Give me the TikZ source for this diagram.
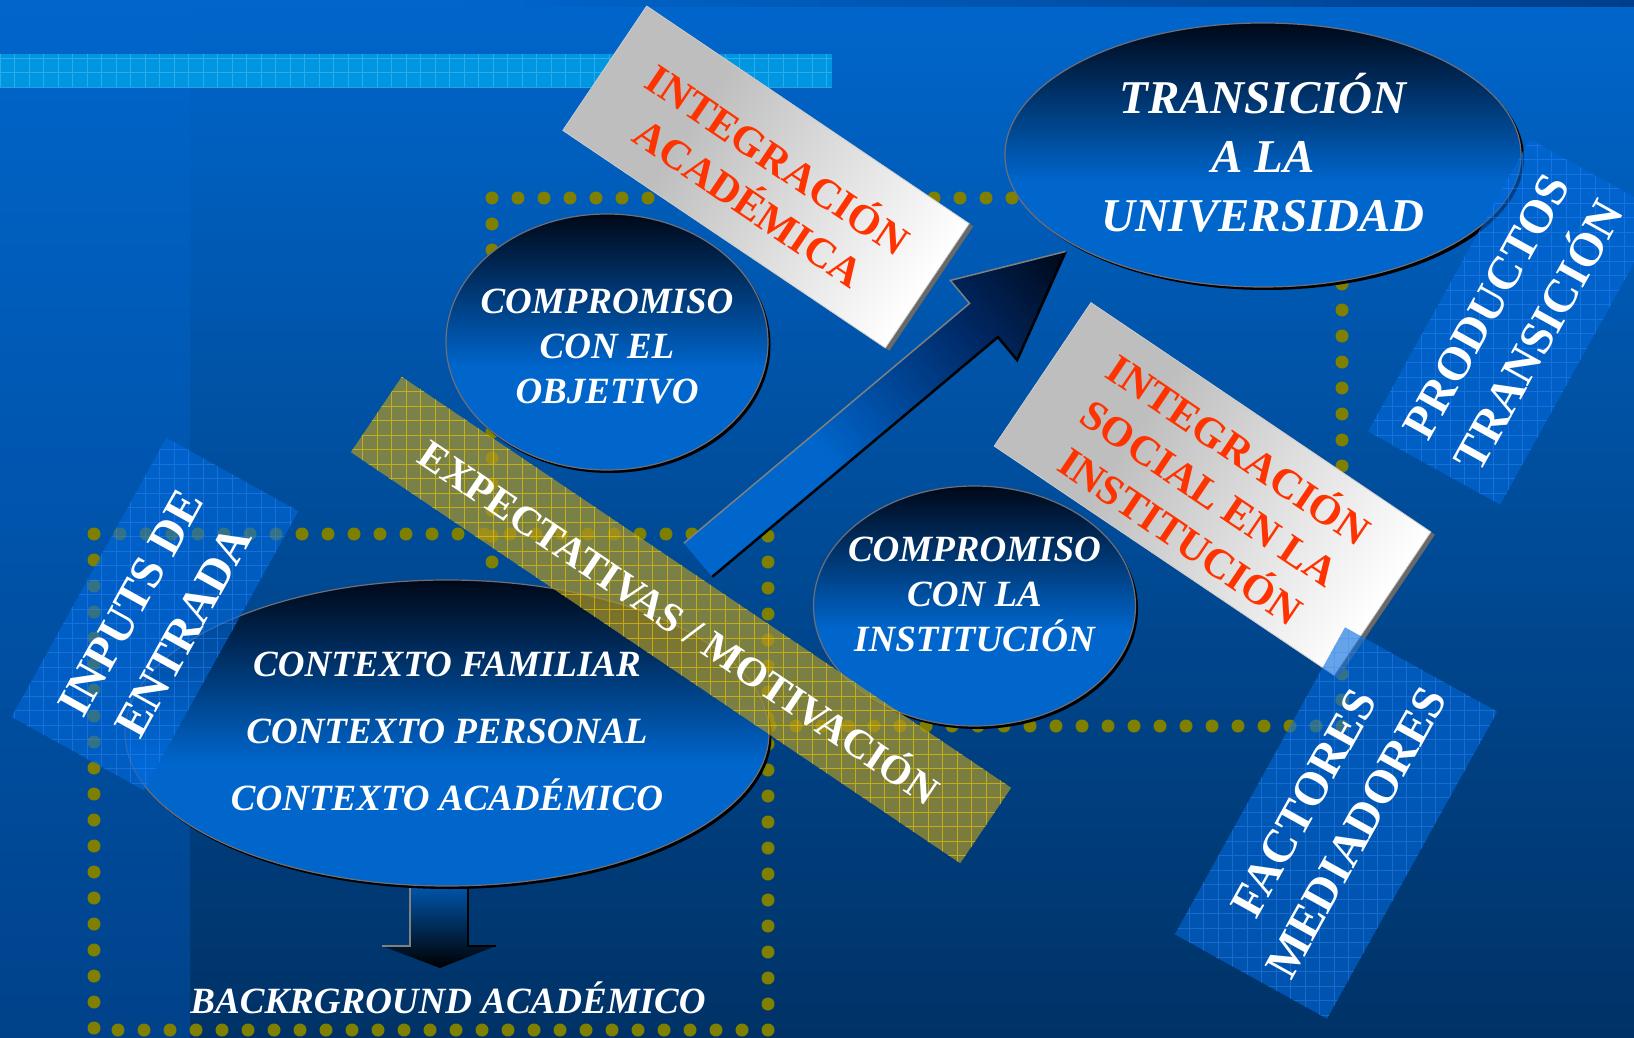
\documentclass[tikz,border=0pt]{standalone}
\usepackage{fontspec}
\setmainfont{Liberation Serif}
\usetikzlibrary{shapes.geometric}
\definecolor{bgtop}{RGB}{0,102,204}
\definecolor{bgbot}{RGB}{0,50,102}
\definecolor{stripbot}{RGB}{0,66,138}
\definecolor{topdark}{RGB}{0,62,140}
\definecolor{ltband}{RGB}{0,150,225}
\definecolor{ltgrid}{RGB}{60,185,240}
\definecolor{dotc}{RGB}{128,128,0}
\definecolor{eblue}{RGB}{0,102,204}
\definecolor{eblack}{RGB}{0,8,24}
\definecolor{emid}{RGB}{0,40,100}
\definecolor{ellrim}{RGB}{110,110,120}
\definecolor{redtxt}{RGB}{255,51,0}
\definecolor{olivefill}{RGB}{170,150,40}
\definecolor{olivegrid}{RGB}{235,200,0}
\definecolor{bandblue}{RGB}{0,105,220}
\definecolor{bandgrid}{RGB}{60,140,250}
\definecolor{boxgray}{RGB}{190,190,190}
\definecolor{boxshadow}{RGB}{105,105,105}
\pgfdeclareverticalshading{ellsh}{100bp}{color(0bp)=(eblue); color(45bp)=(eblue); color(75bp)=(eblack); color(100bp)=(eblack)}
\pgfdeclarehorizontalshading{arrsh}{100bp}{color(0bp)=(eblue); color(42bp)=(eblue); color(62bp)=(emid); color(75bp)=(eblack); color(100bp)=(eblack)}
\pgfdeclarehorizontalshading{boxsh}{100bp}{color(0bp)=(boxgray); color(38bp)=(boxgray); color(75bp)=(white); color(100bp)=(white)}
\tikzset{
  dotline/.style={draw=dotc, line width=13pt, dash pattern=on 0pt off 26pt, line cap=round},
  ellnode/.style={ellipse, inner sep=0pt, shading=ellsh, draw=ellrim, line width=1.2pt},
  elltext/.style={text=white, align=center, inner sep=0pt, font=\bfseries\itshape\fontsize{37}{45}\selectfont},
  redlabel/.style={text=redtxt, align=center, inner sep=0pt, font=\bfseries\fontsize{42}{52}\selectfont},
  whitelabel/.style={text=white, align=center, inner sep=0pt, font=\bfseries\fontsize{47}{60}\selectfont},
  bluebandbox/.style={rectangle, inner sep=0pt, fill=bandblue, fill opacity=0.6, rotate=61},
  olivebandbox/.style={rectangle, inner sep=0pt, fill=olivefill, fill opacity=0.72, rotate=-34},
  bandgridline/.style={draw=bandgrid, line width=0.6pt, opacity=0.4},
  olivegridline/.style={draw=olivegrid, line width=0.6pt, opacity=0.65},
}
\begin{document}
\begin{tikzpicture}[x=1pt,y=-1pt]
\useasboundingbox (0,0) rectangle (1634,1038);
% background
\shade[top color=bgtop, bottom color=bgbot] (0,0) rectangle (1634,1038);
\shade[top color=bgtop, bottom color=stripbot] (0,0) rectangle (190,1038);
\shade[left color=bgtop, right color=topdark] (450,0) rectangle (1634,7);
\fill[ltband] (0,54) rectangle (832,87);
\draw[ltgrid, line width=0.6pt, step=14.5pt, opacity=0.7] (0,87) grid (832,54);
% dotted frames
\draw[dotline] (492,198) rectangle (1342,726);
\draw[dotline] (94,534) rectangle (768,1030);
% down arrow
\shade[top color=eblue, bottom color=black] (410,870) -- (468,870) -- (468,946) -- (496,946) -- (440,968) -- (382,946) -- (410,946) -- cycle;
\draw[black, line width=2pt] (468,880) -- (468,946) -- (496,946);
\draw[gray, line width=1.5pt] (410,880) -- (410,946) -- (382,946);
% ellipses
\fill[black] (449.5,736) ellipse [x radius=322pt, y radius=153pt];
\node[ellnode, minimum width=644pt, minimum height=306pt] (ctxe) at (447,733) {};
\node[elltext, font=\bfseries\itshape\fontsize{37}{67}\selectfont] (ctxt) at (447,731) {CONTEXTO FAMILIAR\\CONTEXTO PERSONAL\\CONTEXTO ACADÉMICO};
\fill[black] (609.5,345) ellipse [x radius=161pt, y radius=128pt];
\node[ellnode, minimum width=322pt, minimum height=256pt] (obje) at (607,342) {};
\node[elltext] (objt) at (607,347) {COMPROMISO\\CON EL\\OBJETIVO};
\fill[black] (977,609) ellipse [x radius=161pt, y radius=120pt];
\node[ellnode, minimum width=322pt, minimum height=240pt] (inse) at (974.5,606) {};
\node[elltext] (inst) at (974.5,594) {COMPROMISO\\CON LA\\INSTITUCIÓN};
\fill[black] (1266,158) ellipse [x radius=258pt, y radius=132pt];
\node[ellnode, minimum width=516pt, minimum height=264pt] (trae) at (1263,155) {};
\node[elltext, font=\bfseries\itshape\fontsize{47}{59}\selectfont] (trat) at (1263,153) {TRANSICIÓN\\A LA\\UNIVERSIDAD};
\node[elltext] (bgt) at (448,998) {BACKRGROUND ACADÉMICO};
% big arrow
\begin{scope}[transform canvas={shift={(698,560)}, rotate=40}]
\shade[shading=arrsh] (0,-22) -- (373,-22) -- (373,-52) -- (480,0) -- (373,52) -- (373,22) -- (0,22) -- cycle;
\draw[black, line width=2.5pt, line join=miter] (0,22) -- (373,22) -- (373,52) -- (480,0);
\draw[gray, line width=1.5pt] (0,-22) -- (373,-22) -- (373,-52) -- (480,0);
\end{scope}
% grey boxes
\begin{scope}[transform canvas={shift={(766,177)}, rotate=-34}]
\fill[boxshadow] (-189.5,-75) rectangle (199.5,75);
\shade[shading=boxsh, draw=gray!40, line width=0.8pt] (-194.5,-75) rectangle (194.5,75);
\node[redlabel] (iat) at (0,2) {INTEGRACIÓN\\ACADÉMICA};
\end{scope}
\begin{scope}[transform canvas={shift={(1212.5,489)}, rotate=-34}]
\fill[boxshadow] (-200,-86.5) rectangle (210,86.5);
\shade[shading=boxsh, draw=gray!40, line width=0.8pt] (-205,-86.5) rectangle (205,86.5);
\node[redlabel] (ist) at (0,2) {INTEGRACIÓN\\SOCIAL EN LA\\INSTITUCIÓN};
\end{scope}
% expectativas band
\node[olivebandbox, minimum width=735pt, minimum height=91pt] (expb) at (681,620) {};
\begin{scope}
\clip (expb.north west) -- (expb.north east) -- (expb.south east) -- (expb.south west) -- cycle;
\draw[olivegridline, step=14.5pt] (330,880) grid (1030,360);
\end{scope}
\node[whitelabel, font=\bfseries\fontsize{41}{50}\selectfont, rotate=-34] (expt) at (681,620) {EXPECTATIVAS / MOTIVACIÓN};
% blue bands
\node[bluebandbox, minimum width=319pt, minimum height=151pt] (inpb) at (155,614) {};
\begin{scope}
\clip (inpb.north west) -- (inpb.north east) -- (inpb.south east) -- (inpb.south west) -- cycle;
\draw[bandgridline] (0,820) grid[step=14.5pt] (320,420);
\end{scope}
\node[whitelabel, rotate=61] (inpt) at (157,617) {INPUTS DE\\ENTRADA};
\node[bluebandbox, minimum width=334pt, minimum height=151pt] (prob) at (1515,322) {};
\begin{scope}
\clip (prob.north west) -- (prob.north east) -- (prob.south east) -- (prob.south west) -- cycle;
\draw[bandgridline] (1350,520) grid[step=14.5pt] (1634,120);
\end{scope}
\node[whitelabel, rotate=61] (prot) at (1513,321) {PRODUCTOS\\TRANSICIÓN};
\node[bluebandbox, minimum width=351pt, minimum height=174pt] (facb) at (1336,823) {};
\begin{scope}
\clip (facb.north west) -- (facb.north east) -- (facb.south east) -- (facb.south west) -- cycle;
\draw[bandgridline] (1160,1030) grid[step=14.5pt] (1510,610);
\end{scope}
\node[whitelabel, rotate=61] (fact) at (1330,818) {FACTORES\\MEDIADORES};
\end{tikzpicture}
\end{document}
